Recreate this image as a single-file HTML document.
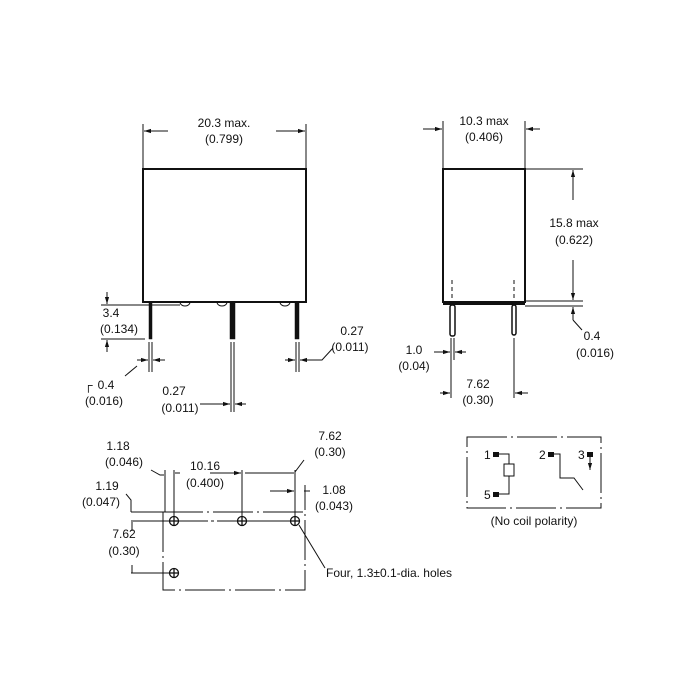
<!DOCTYPE html>
<html><head><style>
html,body{margin:0;padding:0;background:#fff;width:700px;height:700px;overflow:hidden}
svg text{font-family:"Liberation Sans",Arial,sans-serif;font-size:12px;fill:#111}
</style></head><body>
<svg width="700" height="700" viewBox="0 0 700 700" xmlns="http://www.w3.org/2000/svg">
<defs>
<marker id="a" viewBox="0 0 10 10" refX="10" refY="5" markerWidth="7" markerHeight="7" orient="auto-start-reverse"><path d="M0,2 L10,5 L0,8 z" fill="#111"/></marker>
</defs>
<g fill="none" stroke="#111" stroke-width="1">
<!-- LEFT VIEW -->
<line x1="143" y1="124" x2="143" y2="169"/><line x1="306" y1="124" x2="306" y2="169"/>
<line x1="168" y1="131" x2="144" y2="131" marker-end="url(#a)"/>
<line x1="276" y1="131" x2="305" y2="131" marker-end="url(#a)"/>
<rect x="143" y="169" width="163" height="133" stroke-width="2"/>
<path d="M180,302 a5,4 0 0 0 10,0 M217,302 a5,4 0 0 0 10,0 M280,302 a5,4 0 0 0 10,0"/>
<rect x="149" y="302" width="3" height="37" fill="#111" stroke-width="0.5"/>
<rect x="230" y="302" width="5" height="37" fill="#111" stroke-width="0.5"/>
<rect x="295" y="302" width="4" height="37" fill="#111" stroke-width="0.5"/>
<line x1="149" y1="342" x2="149" y2="372"/><line x1="152" y1="342" x2="152" y2="372"/>
<line x1="231" y1="342" x2="231" y2="412"/><line x1="234" y1="342" x2="234" y2="412"/>
<line x1="296" y1="342" x2="296" y2="372"/><line x1="299" y1="342" x2="299" y2="372"/>
<line x1="101" y1="305" x2="180" y2="305"/><line x1="101" y1="339" x2="145" y2="339"/>
<line x1="107" y1="292" x2="107" y2="304" marker-end="url(#a)"/>
<line x1="107" y1="352" x2="107" y2="340" marker-end="url(#a)"/>
<line x1="137" y1="360" x2="148" y2="360" marker-end="url(#a)"/>
<line x1="165" y1="360" x2="153" y2="360" marker-end="url(#a)"/>
<path d="M125,376 L137,366"/>
<line x1="200" y1="404" x2="230" y2="404" marker-end="url(#a)"/>
<line x1="246" y1="404" x2="235" y2="404" marker-end="url(#a)"/>
<line x1="285" y1="360" x2="295" y2="360" marker-end="url(#a)"/>
<line x1="312" y1="360" x2="300" y2="360" marker-end="url(#a)"/>
<path d="M312,360 L322,360 L333,348"/>
<!-- RIGHT VIEW -->
<line x1="443" y1="121" x2="443" y2="169"/><line x1="525" y1="121" x2="525" y2="169"/>
<line x1="423" y1="129" x2="442" y2="129" marker-end="url(#a)"/>
<line x1="540" y1="129" x2="526" y2="129" marker-end="url(#a)"/>
<rect x="443" y="169" width="82" height="133" stroke-width="2"/>
<line x1="443" y1="304" x2="525" y2="304" stroke-width="2"/>
<line x1="525" y1="169" x2="583" y2="169"/>
<line x1="525" y1="301" x2="583" y2="301"/><line x1="525" y1="306" x2="583" y2="306"/>
<line x1="573" y1="200" x2="573" y2="170" marker-end="url(#a)"/>
<line x1="573" y1="260" x2="573" y2="300" marker-end="url(#a)"/>
<line x1="573" y1="320" x2="573" y2="307" marker-end="url(#a)"/>
<path d="M573,320 L582,330"/>
<line x1="452" y1="280" x2="452" y2="300" stroke-dasharray="4,3"/>
<line x1="514" y1="280" x2="514" y2="300" stroke-dasharray="4,3"/>
<rect x="450" y="305" width="5" height="31" rx="2" stroke-width="1.5"/>
<rect x="512" y="305" width="4" height="30" rx="2" stroke-width="1.5"/>
<line x1="451" y1="338" x2="451" y2="398"/><line x1="454" y1="338" x2="454" y2="360"/>
<line x1="514" y1="338" x2="514" y2="398"/>
<line x1="434" y1="352" x2="450" y2="352" marker-end="url(#a)"/>
<line x1="466" y1="352" x2="455" y2="352" marker-end="url(#a)"/>
<line x1="440" y1="393" x2="450" y2="393" marker-end="url(#a)"/>
<line x1="528" y1="393" x2="515" y2="393" marker-end="url(#a)"/>
<!-- BOTTOM PCB -->
<line x1="165" y1="470" x2="165" y2="512"/>
<line x1="174" y1="470" x2="174" y2="517"/>
<line x1="242" y1="470" x2="242" y2="517"/><line x1="295" y1="470" x2="295" y2="517"/>
<path d="M151,470 L160,475 L164,475"/>
<line x1="180" y1="473" x2="175" y2="473"/><line x1="210" y1="473" x2="241" y2="473" marker-end="url(#a)"/>
<line x1="245" y1="473" x2="294" y2="473"/>
<path d="M295,472 L304,460"/>
<line x1="270" y1="491" x2="294" y2="491" marker-end="url(#a)"/>
<line x1="310" y1="491" x2="304" y2="491"/>
<line x1="305" y1="485" x2="305" y2="510"/>
<line x1="131" y1="512" x2="163" y2="512"/>
<line x1="131" y1="521" x2="170" y2="521"/>
<line x1="178" y1="521" x2="238" y2="521" stroke-dasharray="30,3,3,3"/>
<line x1="246" y1="521" x2="291" y2="521"/>
<path d="M126,494 L131,500 L131,512"/>
<line x1="132" y1="531" x2="132" y2="522"/>
<line x1="132" y1="565" x2="132" y2="573"/>
<line x1="131" y1="573" x2="170" y2="573"/>
<rect x="163" y="512" width="142" height="78" stroke-dasharray="40,4,2,4"/>
<g stroke-width="1.3">
<circle cx="174" cy="521" r="4.5"/><line x1="169" y1="521" x2="179" y2="521"/><line x1="174" y1="516" x2="174" y2="526"/>
<circle cx="242" cy="521" r="4.5"/><line x1="237" y1="521" x2="247" y2="521"/><line x1="242" y1="516" x2="242" y2="526"/>
<circle cx="295" cy="521" r="4.5"/><line x1="290" y1="521" x2="300" y2="521"/><line x1="295" y1="516" x2="295" y2="526"/>
<circle cx="174" cy="573" r="4.5"/><line x1="169" y1="573" x2="179" y2="573"/><line x1="174" y1="568" x2="174" y2="578"/>
</g>
<path d="M299,525 L325,568"/>
<!-- SCHEMATIC -->
<rect x="467" y="437" width="134" height="71" stroke-dasharray="40,4,2,4"/>
<path d="M499,454 L509,454 L509,464 M509,476 L509,494 L499,494"/>
<rect x="504" y="464" width="10" height="12"/>
<path d="M554,454 L560,454 L560,478 L574,478 L583,490"/>
<line x1="590" y1="456" x2="590" y2="470" marker-end="url(#a)"/>
</g>
<rect x="493" y="452" width="6" height="5" fill="#111"/>
<rect x="493" y="492" width="6" height="5" fill="#111"/>
<rect x="548" y="452" width="6" height="5" fill="#111"/>
<rect x="587" y="452" width="6" height="5" fill="#111"/>
<!-- TEXT -->
<g text-anchor="middle">
<text x="224" y="127">20.3 max.</text><text x="224" y="143">(0.799)</text>
<text x="484" y="125">10.3 max</text><text x="484" y="141">(0.406)</text>
<text x="574" y="227">15.8 max</text><text x="574" y="244">(0.622)</text>
<text x="592" y="340">0.4</text><text x="595" y="357">(0.016)</text>
<text x="414" y="354">1.0</text><text x="414" y="370">(0.04)</text>
<text x="478" y="388">7.62</text><text x="478" y="404">(0.30)</text>
<text x="111" y="317">3.4</text><text x="119" y="333">(0.134)</text>
<text x="106" y="389">0.4</text><text x="104" y="405">(0.016)</text>
<text x="174" y="395">0.27</text><text x="180" y="412">(0.011)</text>
<text x="352" y="335">0.27</text><text x="350" y="351">(0.011)</text>
<text x="118" y="450">1.18</text><text x="124" y="466">(0.046)</text>
<text x="107" y="490">1.19</text><text x="101" y="506">(0.047)</text>
<text x="205" y="470">10.16</text><text x="205" y="487">(0.400)</text>
<text x="330" y="440">7.62</text><text x="330" y="456">(0.30)</text>
<text x="334" y="494">1.08</text><text x="334" y="510">(0.043)</text>
<text x="124" y="538">7.62</text><text x="124" y="555">(0.30)</text>
<text x="534" y="525">(No coil polarity)</text>
</g>
<text x="84" y="389" font-size="13">&#x250C;</text>
<text x="326" y="577">Four, 1.3±0.1-dia. holes</text>
<g font-size="13">
<text x="484" y="459">1</text><text x="484" y="499">5</text>
<text x="539" y="459">2</text><text x="578" y="459">3</text>
</g>
</svg>
</body></html>
